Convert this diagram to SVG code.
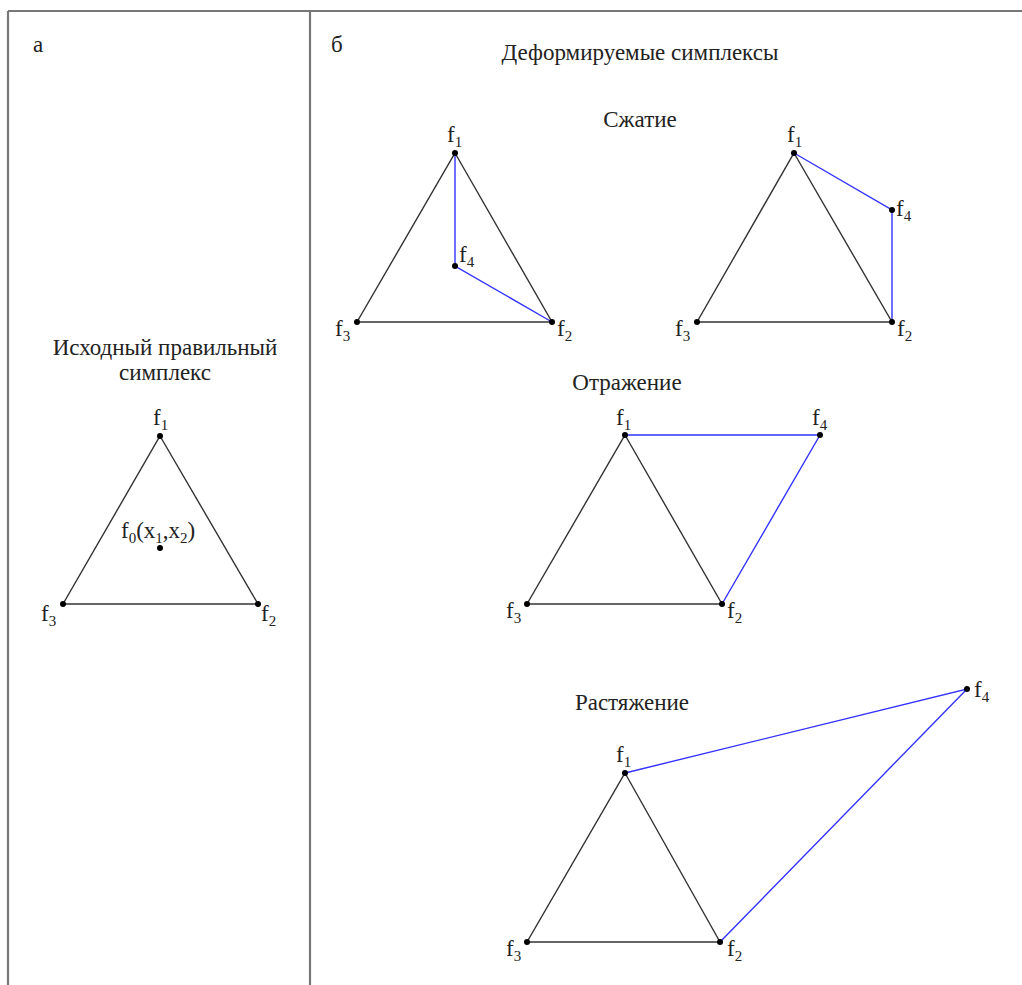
<svg xmlns="http://www.w3.org/2000/svg" width="1022" height="985" viewBox="0 0 1022 985">
<style>
.t{font-family:"Liberation Serif","Times New Roman",serif;font-size:23px;fill:#222}
.s{font-size:15px}
.bk{stroke:#333;stroke-width:1.4;fill:none}
.bl{stroke:#3333ff;stroke-width:1.4;fill:none}
.fr{stroke:#777;stroke-width:2.2;fill:none}
.d{fill:#000}
</style>
<rect width="1022" height="985" fill="#fff"/>
<g id="frame">
<line class="fr" x1="8" y1="11" x2="1022" y2="11"/>
<line class="fr" x1="8" y1="11" x2="8" y2="985"/>
<line class="fr" x1="310" y1="11" x2="310" y2="985"/>
</g>
<g id="titles">
<text class="t" x="33" y="52">а</text>
<text class="t" x="331" y="52">б</text>
<text class="t" x="640" y="60" text-anchor="middle">Деформируемые симплексы</text>
<text class="t" x="640" y="127" text-anchor="middle">Сжатие</text>
<text class="t" x="165" y="355" text-anchor="middle">Исходный правильный</text>
<text class="t" x="165" y="380" text-anchor="middle">симплекс</text>
<text class="t" x="627" y="390" text-anchor="middle">Отражение</text>
<text class="t" x="632" y="710" text-anchor="middle">Растяжение</text>
</g>
<g id="connectors">
<polygon class="bk" points="160,436 258,604 63,604"/>
<polygon class="bk" points="455,153 552,322 357,322"/>
<polyline class="bl" points="455,153 455,266 552,322"/>
<polygon class="bk" points="794,153 892,322 697,322"/>
<polyline class="bl" points="794,153 892,210 892,322"/>
<polygon class="bk" points="625,435 722,604 527,604"/>
<polyline class="bl" points="625,435 820,435 722,604"/>
<polygon class="bk" points="625,773 720,942 527,942"/>
<polyline class="bl" points="625,773 967,689 720,942"/>
</g>
<g id="simplex-a">
<circle class="d" cx="160" cy="436" r="3"/><circle class="d" cx="258" cy="604" r="3"/><circle class="d" cx="63" cy="604" r="3"/><circle class="d" cx="160" cy="548" r="3"/>
<text class="t" x="153" y="425">f<tspan class="s" dy="5">1</tspan></text>
<text class="t" x="41" y="621">f<tspan class="s" dy="5">3</tspan></text>
<text class="t" x="261" y="621">f<tspan class="s" dy="5">2</tspan></text>
<text class="t" x="121" y="538">f<tspan class="s" dy="5">0</tspan><tspan dy="-5">(x</tspan><tspan class="s" dy="5">1</tspan><tspan dy="-5">,x</tspan><tspan class="s" dy="5">2</tspan><tspan dy="-5">)</tspan></text>
</g>
<g id="compress-1">
<circle class="d" cx="455" cy="153" r="3"/><circle class="d" cx="552" cy="322" r="3"/><circle class="d" cx="357" cy="322" r="3"/><circle class="d" cx="455" cy="266" r="3"/>
<text class="t" x="447" y="142">f<tspan class="s" dy="5">1</tspan></text>
<text class="t" x="459" y="262">f<tspan class="s" dy="5">4</tspan></text>
<text class="t" x="335" y="336">f<tspan class="s" dy="5">3</tspan></text>
<text class="t" x="557" y="336">f<tspan class="s" dy="5">2</tspan></text>
</g>
<g id="compress-2">
<circle class="d" cx="794" cy="153" r="3"/><circle class="d" cx="892" cy="322" r="3"/><circle class="d" cx="697" cy="322" r="3"/><circle class="d" cx="892" cy="210" r="3"/>
<text class="t" x="787" y="142">f<tspan class="s" dy="5">1</tspan></text>
<text class="t" x="896" y="216">f<tspan class="s" dy="5">4</tspan></text>
<text class="t" x="675" y="336">f<tspan class="s" dy="5">3</tspan></text>
<text class="t" x="897" y="336">f<tspan class="s" dy="5">2</tspan></text>
</g>
<g id="reflect">
<circle class="d" cx="625" cy="435" r="3"/><circle class="d" cx="722" cy="604" r="3"/><circle class="d" cx="527" cy="604" r="3"/><circle class="d" cx="820" cy="435" r="3"/>
<text class="t" x="616" y="425">f<tspan class="s" dy="5">1</tspan></text>
<text class="t" x="812" y="425">f<tspan class="s" dy="5">4</tspan></text>
<text class="t" x="506" y="618">f<tspan class="s" dy="5">3</tspan></text>
<text class="t" x="727" y="618">f<tspan class="s" dy="5">2</tspan></text>
</g>
<g id="expand">
<circle class="d" cx="625" cy="773" r="3"/><circle class="d" cx="720" cy="942" r="3"/><circle class="d" cx="527" cy="942" r="3"/><circle class="d" cx="967" cy="689" r="3"/>
<text class="t" x="616" y="762">f<tspan class="s" dy="5">1</tspan></text>
<text class="t" x="974" y="697">f<tspan class="s" dy="5">4</tspan></text>
<text class="t" x="506" y="956">f<tspan class="s" dy="5">3</tspan></text>
<text class="t" x="727" y="956">f<tspan class="s" dy="5">2</tspan></text>
</g>
</svg>
